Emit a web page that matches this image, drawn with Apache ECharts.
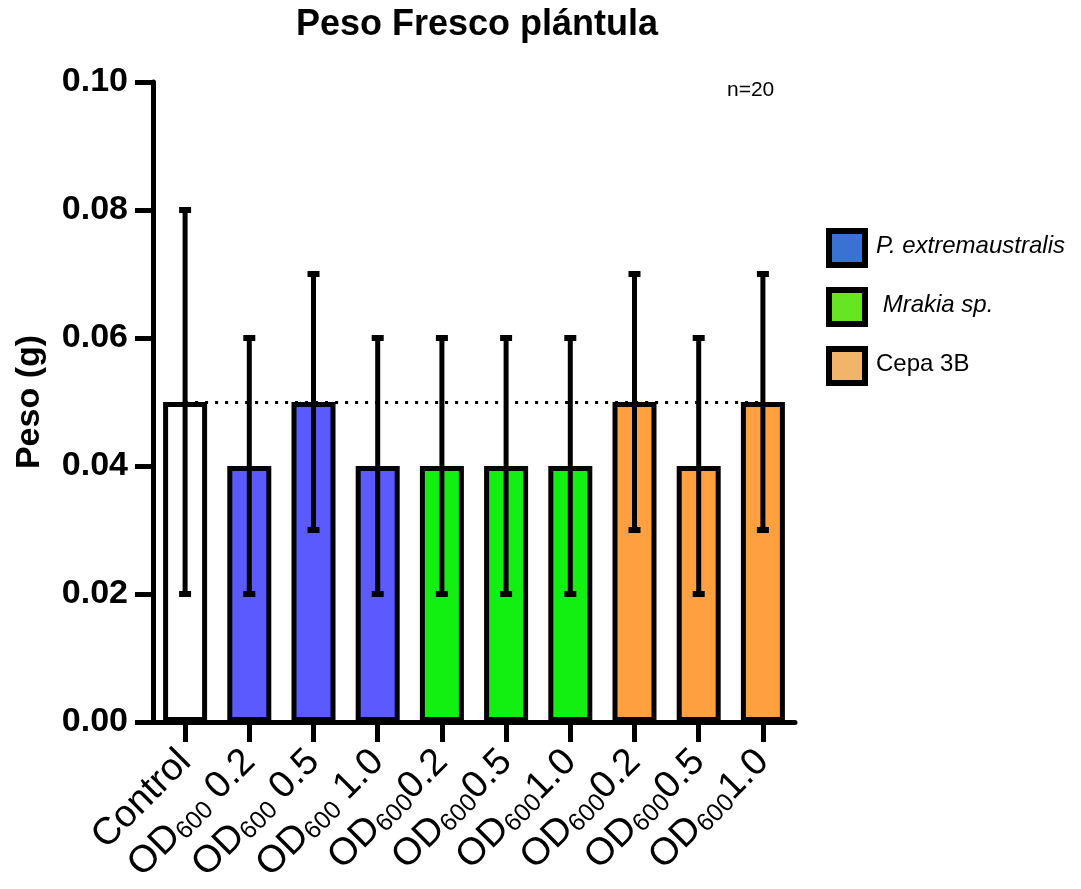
<!DOCTYPE html>
<html>
<head>
<meta charset="utf-8">
<style>html,body{margin:0;padding:0;background:#fff;}#c{width:1081px;height:889px;}</style>
<script src="https://cdn.jsdelivr.net/npm/echarts@6/dist/echarts.min.js"></script>
</head>
<body>
<div id="c"></div>
<script>
// ---- data ----
const categories = ['Control', 'OD600 0.2', 'OD600 0.5', 'OD600 1.0', 'OD6000.2', 'OD6000.5', 'OD6001.0', 'OD6000.2', 'OD6000.5', 'OD6001.0'];
const groups = ['control', 'pext', 'pext', 'pext', 'mrakia', 'mrakia', 'mrakia', 'cepa', 'cepa', 'cepa'];
const means = [0.05, 0.04, 0.05, 0.04, 0.04, 0.04, 0.04, 0.05, 0.04, 0.05];
const errs  = [0.03, 0.02, 0.02, 0.02, 0.02, 0.02, 0.02, 0.02, 0.02, 0.02];
const legendNames = ['P. extremaustralis', ' Mrakia sp.', 'Cepa 3B'];
const yTicks = [0, 0.02, 0.04, 0.06, 0.08, 0.10];
const referenceLine = means[0];
const sampleNote = 'n=20';

// ---- styles ----
const barColors = { control: '#ffffff', pext: '#5a5aff', mrakia: '#11f011', cepa: '#ffa040' };
const legendColors = ['#3a72d4', '#66e622', '#f2b468'];
const legendItalic = [true, true, false];

const chart = echarts.init(document.getElementById('c'), null, { renderer: 'canvas' });

function fmtLabel(v) {
  if (v.indexOf('OD600') === 0) {
    return '{a|OD}{s|600}{a|' + v.slice(5) + '}';
  }
  return '{a|' + v + '}';
}

// legend drawn as graphic elements (thick black borders)
const legendGraphics = [];
legendNames.forEach((n, i) => {
  const top = 228 + i * 59;
  legendGraphics.push({
    type: 'rect', left: 826, top: top,
    shape: { width: 36, height: 34 },
    style: { fill: legendColors[i], stroke: '#000', lineWidth: 6 }
  });
  legendGraphics.push({
    type: 'text', left: 876, top: top + 6,
    style: {
      text: n, fill: '#000', fontFamily: 'Liberation Sans', fontSize: 24,
      fontStyle: legendItalic[i] ? 'italic' : 'normal'
    }
  });
});

const option = {
  backgroundColor: '#ffffff',
  animation: false,
  title: {
    text: 'Peso Fresco plántula',
    left: 472, top: 2, textAlign: 'center',
    textStyle: { fontFamily: 'Liberation Sans', fontWeight: 'bold', fontSize: 36, color: '#000' }
  },
  grid: { left: 153, right: 286, top: 82, bottom: 167, containLabel: false },
  graphic: [{
    type: 'text', left: 727, top: 80,
    style: { text: sampleNote, fontFamily: 'Liberation Sans', fontSize: 21, fill: '#000' }
  }].concat(legendGraphics),
  xAxis: {
    type: 'category', data: categories, boundaryGap: true,
    axisLine: { lineStyle: { color: '#000', width: 5 } },
    axisTick: { show: true, interval: 0, alignWithLabel: true, length: 20, lineStyle: { color: '#000', width: 5 } },
    axisLabel: {
      interval: 0, rotate: 45, margin: 34, color: '#000',
      formatter: fmtLabel,
      rich: {
        a: { fontFamily: 'Liberation Sans', fontSize: 38, color: '#000', lineHeight: 40 },
        s: { fontFamily: 'Liberation Sans', fontSize: 25, color: '#000', verticalAlign: 'bottom', lineHeight: 40, padding: [8, 0, 0, 0] }
      }
    }
  },
  yAxis: {
    type: 'value', min: 0, max: 0.10, interval: 0.02,
    name: 'Peso (g)', nameLocation: 'middle', nameGap: 106,
    nameTextStyle: { fontFamily: 'Liberation Sans', fontWeight: 'bold', fontSize: 34, color: '#000' },
    axisLine: { show: true, lineStyle: { color: '#000', width: 5 } },
    axisTick: { show: true, length: 18, lineStyle: { color: '#000', width: 5 } },
    splitLine: { show: false },
    axisLabel: {
      margin: 25, color: '#000', fontFamily: 'Liberation Sans', fontWeight: 'bold', fontSize: 34,
      formatter: v => v.toFixed(2)
    }
  },
  series: [
    {
      type: 'line', data: [], z: 1, silent: true,
      markLine: {
        silent: true, symbol: 'none', label: { show: false },
        lineStyle: { color: '#000', type: [3, 7], width: 3 },
        data: [[{ coord: [0, referenceLine] }, { coord: [categories.length - 1, referenceLine] }]]
      }
    },
    {
      type: 'bar', z: 2, barWidth: 44,
      data: means.map((m, i) => ({
        value: m,
        itemStyle: { color: barColors[groups[i]], borderColor: '#000', borderWidth: 5 }
      }))
    },
    {
      type: 'custom', z: 3, silent: true,
      data: means.map((m, i) => [i, m - errs[i], m + errs[i]]),
      renderItem: function (params, api) {
        const x = api.value(0);
        const lo = api.coord([x, api.value(1)]);
        const hi = api.coord([x, api.value(2)]);
        const cw = 6;
        const st = { stroke: '#000', lineWidth: 5 };
        return {
          type: 'group',
          children: [
            { type: 'line', shape: { x1: lo[0], y1: lo[1], x2: hi[0], y2: hi[1] }, style: st },
            { type: 'rect', shape: { x: hi[0] - cw, y: hi[1] - 3, width: cw * 2, height: 6 }, style: { fill: '#000' } },
            { type: 'rect', shape: { x: lo[0] - cw, y: lo[1] - 3, width: cw * 2, height: 6 }, style: { fill: '#000' } }
          ]
        };
      }
    }
  ]
};
chart.setOption(option);
</script>
</body>
</html>
